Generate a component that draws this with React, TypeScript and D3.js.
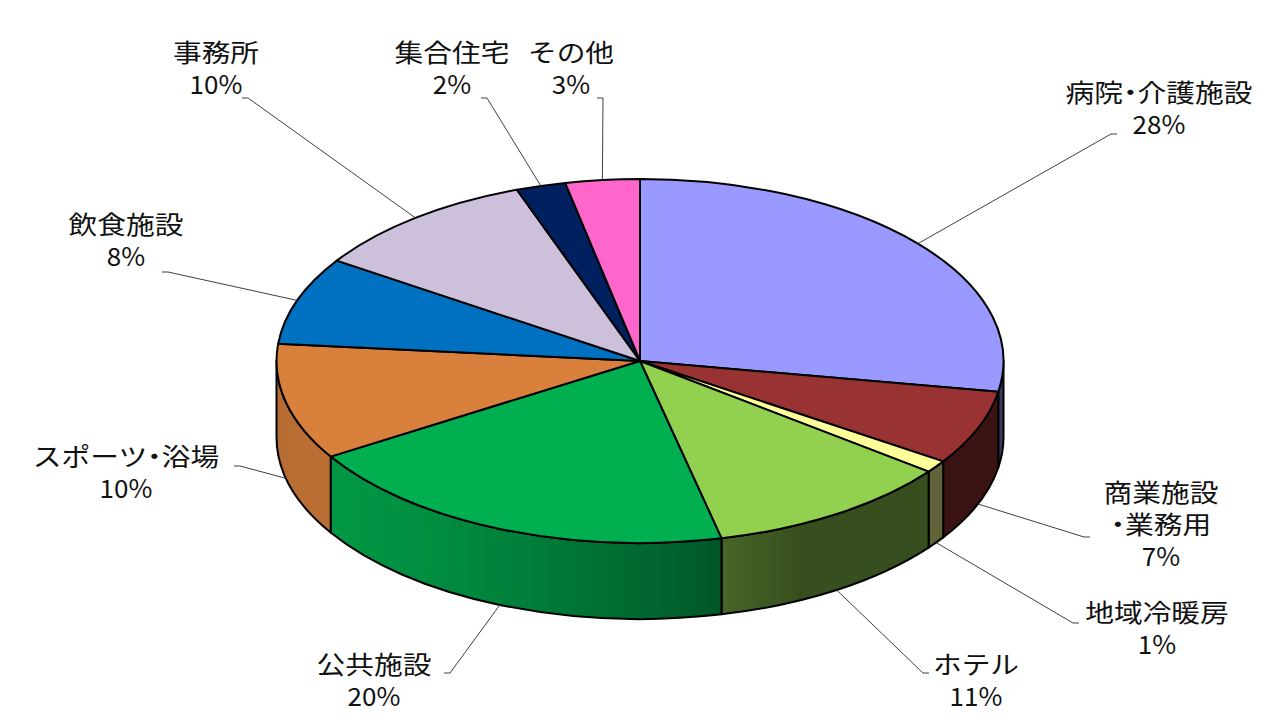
import { useMemo } from "react";
import * as d3 from "d3";

// shares by use, clockwise from 12 o'clock
const CATEGORIES = [
  "病院・介護施設",
  "商業施設\n・業務用",
  "地域冷暖房",
  "ホテル",
  "公共施設",
  "スポーツ・浴場",
  "飲食施設",
  "事務所",
  "集合住宅",
  "その他",
];
const SHARES = [27.7, 6.6, 1.1, 11.0, 19.8, 10.3, 7.8, 10.2, 2.2, 3.3];
const COLORS = [
  "#9999FF",
  "#993333",
  "#FFFF99",
  "#92D050",
  "#00B050",
  "#D8803C",
  "#0070C0",
  "#CCC0DA",
  "#002060",
  "#FF66CC",
];

// hand-placed data labels (like Excel): text centre, first baseline, leader start
const LABEL_POS: [number, number, number, number][] = [
  [1159, 102, 1117, 134],
  [1161, 502, 1090, 537],
  [1157, 622, 1079, 623],
  [976, 674, 929, 673],
  [374, 674, 444, 673],
  [126, 466, 234, 466],
  [126, 234, 162, 272],
  [216, 62, 242, 98],
  [452, 62, 481, 98],
  [571, 62, 597, 98],
];

const W = 1280;
const H = 720;
const CX = 640;
const CY = 361;
const RX = 363.5;
const RY = 182;
const DEPTH = 76;
const FONT = "'Noto Sans CJK JP', 'Noto Sans', sans-serif";
const FONT_SIZE = 25;
const LINE_H = 32;
const NAME_SX = 1.15;
const PCT_SX = 1.04;

const pt = (t: number, dy = 0): [number, number] => [
  CX + RX * Math.sin(t),
  CY - RY * Math.cos(t) + dy,
];

// light from the front-left, ambient floor
const shadeAt = (t: number) => {
  const nx = Math.sin(t);
  const ny = -Math.cos(t);
  const dot = nx * -0.898 + ny * 0.44;
  return 0.38 + 0.48 * Math.max(0, dot);
};
const shade = (hex: string, f: number) => {
  const c = d3.rgb(hex);
  return d3.rgb(c.r * f, c.g * f, c.b * f).formatHex();
};

function lineText(line: string) {
  const parts = line.split(/(・)/).filter((p) => p.length);
  return parts.map((p, k) =>
    p === "・" ? (
      <tspan key={k} style={{ fontFeatureSettings: '"palt"' }}>
        {p}
      </tspan>
    ) : (
      p
    )
  );
}

export default function App() {
  const arcs = useMemo(
    () =>
      d3
        .pie<number>()
        .sort(null)
        .value((d) => d)(SHARES),
    []
  );

  const sides = arcs
    .map((a, i) => {
      const t0 = Math.max(a.startAngle, Math.PI / 2);
      const t1 = Math.min(a.endAngle, (3 * Math.PI) / 2);
      if (t1 <= t0) return null;
      const p0 = pt(t0);
      const p1 = pt(t1);
      const d = `M${p0}A${RX},${RY} 0 0 1 ${p1}L${pt(t1, DEPTH)}A${RX},${RY} 0 0 0 ${pt(t0, DEPTH)}Z`;
      const xl = p1[0];
      const xr = p0[0];
      const stops = d3.range(13).map((k) => {
        const t = t1 - ((t1 - t0) * k) / 12;
        const off = xr - xl > 0.5 ? (pt(t)[0] - xl) / (xr - xl) : k / 12;
        return { off, color: shade(COLORS[i], shadeAt(t)) };
      });
      return { i, d, xl, xr, stops };
    })
    .filter(Boolean) as { i: number; d: string; xl: number; xr: number; stops: { off: number; color: string }[] }[];

  const tops = arcs.map((a) => {
    const large = a.endAngle - a.startAngle > Math.PI ? 1 : 0;
    return `M${CX},${CY}L${pt(a.startAngle)}A${RX},${RY} 0 ${large} 1 ${pt(a.endAngle)}Z`;
  });

  const leaders = arcs.map((a, i) => {
    const mid = (a.startAngle + a.endAngle) / 2;
    const front = mid > Math.PI / 2 && mid < (3 * Math.PI) / 2;
    const anchor = pt(mid, front ? DEPTH : 0);
    const [, , sx, sy] = LABEL_POS[i];
    const dir = Math.sign(anchor[0] - sx) || 1;
    return d3.line()([[sx, sy], [sx + dir * 6, sy], anchor]) as string;
  });

  return (
    <svg
      width={W}
      height={H}
      viewBox={`0 0 ${W} ${H}`}
      style={{ position: "absolute", left: 0, top: 0, background: "#fff", display: "block" }}
    >
      <defs>
        {sides.map((s) => (
          <linearGradient
            key={s.i}
            id={`side-${s.i}`}
            gradientUnits="userSpaceOnUse"
            x1={s.xl}
            x2={Math.max(s.xr, s.xl + 1)}
            y1={0}
            y2={0}
          >
            {s.stops.map((st, k) => (
              <stop key={k} offset={Math.min(1, Math.max(0, st.off))} stopColor={st.color} />
            ))}
          </linearGradient>
        ))}
      </defs>

      <g stroke="#000" strokeWidth={2} strokeLinejoin="round">
        {sides.map((s) => (
          <path key={s.i} d={s.d} fill={`url(#side-${s.i})`} />
        ))}
        {tops.map((d, i) => (
          <path key={i} d={d} fill={COLORS[i]} />
        ))}
      </g>

      <g fill="none" stroke="#404040" strokeWidth={1}>
        {leaders.map((d, i) => (
          <path key={i} d={d} />
        ))}
      </g>

      <g fontFamily={FONT} fontSize={FONT_SIZE} fill="#111" textAnchor="middle">
        {CATEGORIES.map((name, i) => {
          const [x, y] = LABEL_POS[i];
          const lines = [...name.split("\n"), `${Math.round(SHARES[i])}%`];
          return (
            <g key={i}>
              {lines.map((l, k) => (
                <text
                  key={k}
                  transform={`translate(${x},${y + k * LINE_H}) scale(${k === lines.length - 1 ? PCT_SX : NAME_SX},1)`}
                >
                  {lineText(l)}
                </text>
              ))}
            </g>
          );
        })}
      </g>
    </svg>
  );
}
